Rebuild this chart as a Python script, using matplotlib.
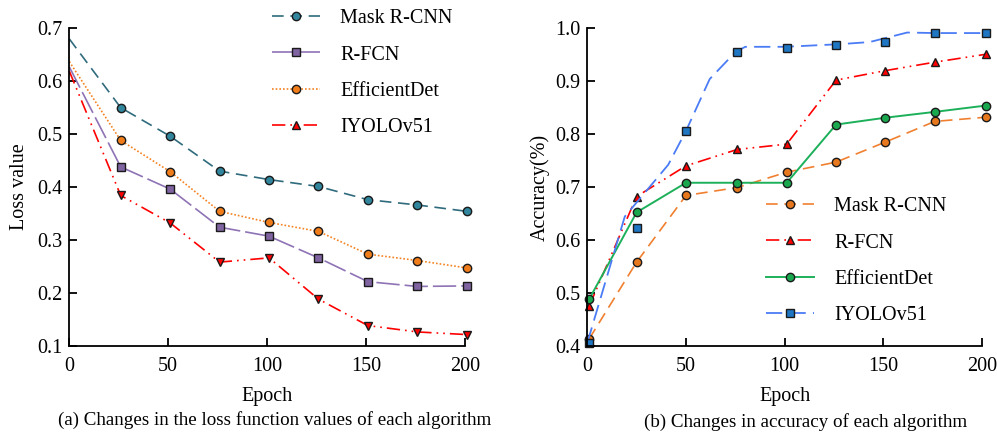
import numpy as np
import matplotlib
matplotlib.use("Agg")
from matplotlib import pyplot as plt
from matplotlib.lines import Line2D

plt.rcParams['font.family'] = ['Liberation Serif', 'DejaVu Serif']
plt.rcParams['mathtext.fontset'] = 'stix'

names = ["Mask R-CNN", "R-FCN", "EfficientDet", "IYOLOv51"]

# (a) loss values
loss_epoch = [0, 26, 51, 76, 101, 126, 151, 176, 201]
loss_mask = [0.680, 0.550, 0.496, 0.430, 0.414, 0.401, 0.376, 0.366, 0.354]
loss_rfcn = [0.627, 0.438, 0.396, 0.324, 0.307, 0.266, 0.221, 0.212, 0.213]
loss_eff = [0.637, 0.488, 0.429, 0.354, 0.333, 0.316, 0.273, 0.261, 0.247]
loss_iyolo = [0.619, 0.384, 0.332, 0.258, 0.266, 0.188, 0.138, 0.126, 0.121]

# (b) accuracy
acc_epoch = [1, 25, 50, 76, 101, 126, 151, 176, 202]
acc_mask = [0.413, 0.558, 0.684, 0.699, 0.728, 0.747, 0.785, 0.824, 0.832]
acc_rfcn = [0.475, 0.682, 0.740, 0.771, 0.781, 0.902, 0.920, 0.936, 0.951]
acc_eff = [0.488, 0.652, 0.708, 0.708, 0.708, 0.818, 0.831, 0.842, 0.854]
acc_iyolo = [0.405, 0.622, 0.806, 0.955, 0.963, 0.968, 0.975, 0.991, 0.991]
# the IYOLOv51 curve is drawn smoothed, through more points than its markers
iyolo_curve_x = [0, 19, 41, 50, 62, 75, 80, 100, 128, 143, 162, 176, 202]
iyolo_curve_y = [0.405, 0.644, 0.742, 0.806, 0.904, 0.955, 0.965, 0.965, 0.970, 0.974, 0.992, 0.991, 0.991]

fig = plt.figure(figsize=(9.97, 4.32), dpi=100)
ax1 = fig.add_axes([0.0695, 0.1998, 0.3967, 0.7347])
ax2 = fig.add_axes([0.589, 0.1998, 0.3962, 0.7347])

mk = dict(markersize=6, markeredgecolor='#1a1a1a', markeredgewidth=1.0,
          clip_on=False, markevery=slice(1, None))

h1, = ax1.plot(loss_epoch, loss_mask, color='#2f6b7c', lw=1.2, ls=(0, (7, 4)),
               marker='o', markerfacecolor='#31859c', **mk)
h2, = ax1.plot(loss_epoch, loss_rfcn, color='#8e73b5', lw=1.2, ls=(0, (14, 3)),
               marker='s', markerfacecolor='#8064a2', **mk)
h3, = ax1.plot(loss_epoch, loss_eff, color='#f58220', lw=1.2, ls=(0, (1, 1.2)),
               marker='o', markerfacecolor='#f07d1a', **mk)
h4, = ax1.plot(loss_epoch, loss_iyolo, color='#ff0000', lw=1.2, ls=(0, (8, 3, 1, 3, 1, 3)),
               marker='v', markerfacecolor='#ff0000', **mk)
h4_leg = Line2D([], [], color='#ff0000', lw=1.2, ls=(0, (8, 3, 1, 3, 1, 3)),
                marker='^', markersize=6, markerfacecolor='#ff0000',
                markeredgecolor='#1a1a1a', markeredgewidth=1.0)

mk2 = dict(markersize=6, markeredgecolor='#1a1a1a', markeredgewidth=1.0, clip_on=False)
g1, = ax2.plot(acc_epoch, acc_mask, color='#f08030', lw=1.2, ls=(0, (7, 4)),
               marker='o', markerfacecolor='#e8781e', **mk2)
g2, = ax2.plot(acc_epoch, acc_rfcn, color='#ff0000', lw=1.2, ls=(0, (8, 3, 1, 3, 1, 3)),
               marker='^', markerfacecolor='#ff0000', **mk2)
g3, = ax2.plot(acc_epoch, acc_eff, color='#1db05a', lw=1.4, ls='-',
               marker='o', markerfacecolor='#1aa84f', **mk2)
ax2.plot(iyolo_curve_x, iyolo_curve_y, color='#4a7cf5', lw=1.3, ls=(0, (9, 4)), clip_on=False)
ax2.plot(acc_epoch, acc_iyolo, ls='none', marker='s', markerfacecolor='#1f77c4', **mk2)
g4 = Line2D([], [], color='#4a7cf5', lw=1.3, ls=(0, (9, 4)), marker='s', markersize=6,
            markerfacecolor='#1f77c4', markeredgecolor='#1a1a1a', markeredgewidth=1.0)

for ax in (ax1, ax2):
    ax.spines['top'].set_visible(False)
    ax.spines['right'].set_visible(False)
    ax.spines['left'].set_linewidth(1.3)
    ax.spines['bottom'].set_linewidth(1.3)
    ax.tick_params(direction='in', length=6, width=1.3, labelsize=14.5)
    ax.tick_params(axis='x', pad=8)
    ax.tick_params(axis='y', pad=5)
    ax.set_xlim(0, 200)
    ax.set_xticks([0, 50, 100, 150, 200])
    ax.set_xlabel("Epoch", fontsize=14.5, labelpad=8)

ax1.set_ylim(0.1, 0.7)
ax1.set_yticks(np.arange(0.1, 0.71, 0.1))
ax1.set_yticklabels(["%.1f" % v for v in np.arange(0.1, 0.71, 0.1)])
ax1.set_ylabel("Loss value", fontsize=14.5, labelpad=6)

ax2.set_ylim(0.4, 1.0)
ax2.set_yticks(np.arange(0.4, 1.01, 0.1))
ax2.set_yticklabels(["%.1f" % v for v in np.arange(0.4, 1.01, 0.1)])
ax2.set_ylabel("Accuracy(%)", fontsize=14.5, labelpad=4)

leg_kw = dict(frameon=False, fontsize=14.5, handlelength=2.4, handletextpad=1.0,
              labelspacing=0.86, borderpad=0, borderaxespad=0, loc='upper left')
fig.legend([h1, h2, h3, h4_leg], names, bbox_to_anchor=(272 / 997, 1 - 9 / 432), **leg_kw)
fig.legend([g1, g2, g3, g4], names, bbox_to_anchor=(766 / 997, 1 - 197 / 432), **leg_kw)

fig.text(275 / 997, 1 - 420 / 432, "(a) Changes in the loss function values of each algorithm",
         ha='center', va='center', fontsize=13.7)
fig.text(806 / 997, 1 - 422 / 432, "(b) Changes in accuracy of each algorithm",
         ha='center', va='center', fontsize=13.7)

fig.savefig("out.png", dpi=100)
